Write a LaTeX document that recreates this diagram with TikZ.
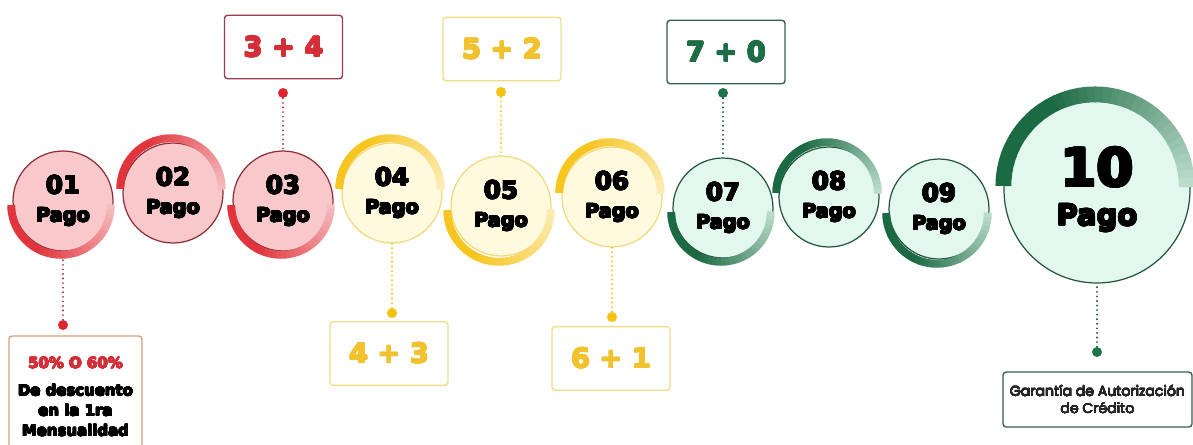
\documentclass[tikz,border=0pt]{standalone}
\usepackage{fontspec}
\usepackage{contour}
\setmainfont{DejaVu Sans}
\newfontfamily\geo{Poppins}
\contourlength{0.35pt}
\contournumber{16}
\definecolor{rFill}{HTML}{F9C8CA}
\definecolor{rLine}{HTML}{8C2F3B}
\definecolor{rDark}{HTML}{E1343C}
\definecolor{rLight}{HTML}{F7D0D2}
\definecolor{rText}{HTML}{D42F38}
\definecolor{rDot}{HTML}{DD2530}
\definecolor{rDotLine}{HTML}{A8404A}
\definecolor{rBox}{HTML}{9A3C4A}
\definecolor{oBox}{HTML}{D9A07C}
\definecolor{yFill}{HTML}{FFF9DD}
\definecolor{yLine}{HTML}{F1D97E}
\definecolor{yDark}{HTML}{F6C520}
\definecolor{yLight}{HTML}{FCF2CC}
\definecolor{yText}{HTML}{F2C12E}
\definecolor{yDot}{HTML}{F4C20F}
\definecolor{yBox}{HTML}{F2DB8A}
\definecolor{gFill}{HTML}{E2F7EE}
\definecolor{gLine}{HTML}{23553D}
\definecolor{gDark}{HTML}{1C6A43}
\definecolor{gLight}{HTML}{D2ECDF}
\definecolor{gText}{HTML}{1E6D47}
\definecolor{gDot}{HTML}{1D7548}
\definecolor{gBox}{HTML}{35604D}
\newcommand\hv[2]{\contour{#1}{\textcolor{#1}{#2}}}
\newcommand\lbl[1]{\fontsize{14}{16}\selectfont \hv{black}{#1}\\[4pt]\fontsize{11}{13}\selectfont \hv{black}{Pago}}
\newcommand\parc[6]{%
  \pgfmathsetmacro\myR{#2*0.5669}%
  \foreach \k in {0,...,35}{%
    \pgfmathsetmacro\angA{180+#3*5*\k}%
    \pgfmathsetmacro\angB{180+#3*(5*\k+5.7)}%
    \pgfmathsetmacro\myPc{\k<12 ? 100 : 100-(\k-12)*3.8}%
    \draw[line width=#6, color=#4!\myPc!#5] (#1.center) ++(-2,{4*#3}) ++(\angA:\myR pt) arc[start angle=\angA, end angle=\angB, radius=\myR pt];
  }}
\begin{document}
\begin{tikzpicture}[x=0.02cm,y=-0.02cm,
  pc/.style={circle, inner sep=0pt, minimum size=2cm, line width=0.7pt, align=center, text=black, font=\bfseries},
  rc/.style={pc, fill=rFill, draw=rLine},
  yc/.style={pc, fill=yFill, draw=yLine},
  gc/.style={pc, fill=gFill, draw=gLine},
  lbox/.style={rectangle, rounded corners=1.8pt, line width=0.8pt, fill=white, inner sep=0pt, align=center, minimum width=2.36cm, minimum height=1.27cm, font=\bfseries\fontsize{15.5}{18}\selectfont},
  dotn/.style={circle, inner sep=0pt, minimum size=0.2cm},
  dline/.style={line width=1.2pt, dash pattern=on 0pt off 2.6pt, line cap=round},
]
\useasboundingbox (0,0) rectangle (1193,444);
\clip (0,0) rectangle (1193,444);
% circles
\node[rc] (p1) at (63,201) {\lbl{01}};
\node[rc] (p2) at (173,193) {\lbl{02}};
\node[rc] (p3) at (283,201) {\lbl{03}};
\node[yc] (p4) at (392,193) {\lbl{04}};
\node[yc] (p5) at (501,206) {\lbl{05}};
\node[yc] (p6) at (612,197) {\lbl{06}};
\node[gc] (p7) at (723,208) {\lbl{07}};
\node[gc] (p8) at (829,197) {\lbl{08}};
\node[gc] (p9) at (939,209) {\lbl{09}};
\node[gc, minimum size=3.72cm] (p10) at (1097,190) {\contourlength{0.7pt}\fontsize{30}{30}\selectfont \hv{black}{10}\\[8pt]\contourlength{0.45pt}\fontsize{16.5}{18}\selectfont \hv{black}{Pago}};
% boxes
\node[lbox, draw=rBox] (b34) at (283.5,47) {\hv{rText}{3 + 4}};
\node[lbox, draw=yBox] (b52) at (502,49) {\hv{yText}{5 + 2}};
\node[lbox, draw=gBox] (b70) at (726,52) {\hv{gText}{7 + 0}};
\node[lbox, draw=yBox] (b43) at (389,353.5) {\hv{yText}{4 + 3}};
\node[lbox, draw=yBox] (b61) at (611,358.5) {\hv{yText}{6 + 1}};
\node[rectangle, rounded corners=1.8pt, line width=0.8pt, draw=oBox, fill=white, align=center, minimum width=2.66cm, minimum height=2.44cm, inner sep=0pt, font=\bfseries\fontsize{8.5}{11.5}\selectfont] (b01) at (75.5,397)
  {\contourlength{0.25pt}\hv{rText}{50\% O 60\%}\\[4pt]\contourlength{0.25pt}\hv{black}{De descuento}\\\contourlength{0.25pt}\hv{black}{en la 1ra}\\\contourlength{0.25pt}\hv{black}{Mensualidad}};
\node[rectangle, rounded corners=1.8pt, line width=0.8pt, draw=gBox, fill=white, align=center, minimum width=3.78cm, minimum height=1.1cm, inner sep=0pt, font=\geo\fontsize{8}{10}\selectfont] (b10) at (1097.5,399.5)
  {\contourlength{0.08pt}\hv{black!85}{Garantía de Autorización}\\\contourlength{0.08pt}\hv{black!85}{de Crédito}};
% dots
\node[dotn, fill=rDot] (d1) at (63,325) {};
\node[dotn, fill=rDot] (d3) at (283,93) {};
\node[dotn, fill=yDot] (d4) at (392,313) {};
\node[dotn, fill=yDot] (d5) at (501,92) {};
\node[dotn, fill=yDot] (d6) at (612,317) {};
\node[dotn, fill=gDot] (d7) at (723,93) {};
\node[dotn, fill=gDot] (d10) at (1097,352) {};
% dotted connectors
\draw[dline, rDotLine] (d1) -- (p1);
\draw[dline, rDotLine] (d3) -- (p3);
\draw[dline, yDot] (d4) -- (p4);
\draw[dline, yDot] (d5) -- (p5);
\draw[dline, yDot] (d6) -- (p6);
\draw[dline, gLine] (d7) -- (p7);
\draw[dline, gLine] (d10) -- (p10);
% arcs
\parc{p1}{50}{1}{rDark}{rLight}{4.5pt}
\parc{p2}{51}{-1}{rDark}{rLight}{4.5pt}
\parc{p3}{50}{1}{rDark}{rLight}{4.5pt}
\parc{p4}{51}{-1}{yDark}{yLight}{4.5pt}
\parc{p5}{52}{1}{yDark}{yLight}{4.5pt}
\parc{p6}{51}{-1}{yDark}{yLight}{4.5pt}
\parc{p7}{50}{1}{gDark}{gLight}{4.5pt}
\parc{p8}{51}{-1}{gDark}{gLight}{4.5pt}
\parc{p9}{51}{1}{gDark}{gLight}{4.5pt}
\parc{p10}{92}{-1}{gDark}{gLight}{9pt}
\end{tikzpicture}
\end{document}
